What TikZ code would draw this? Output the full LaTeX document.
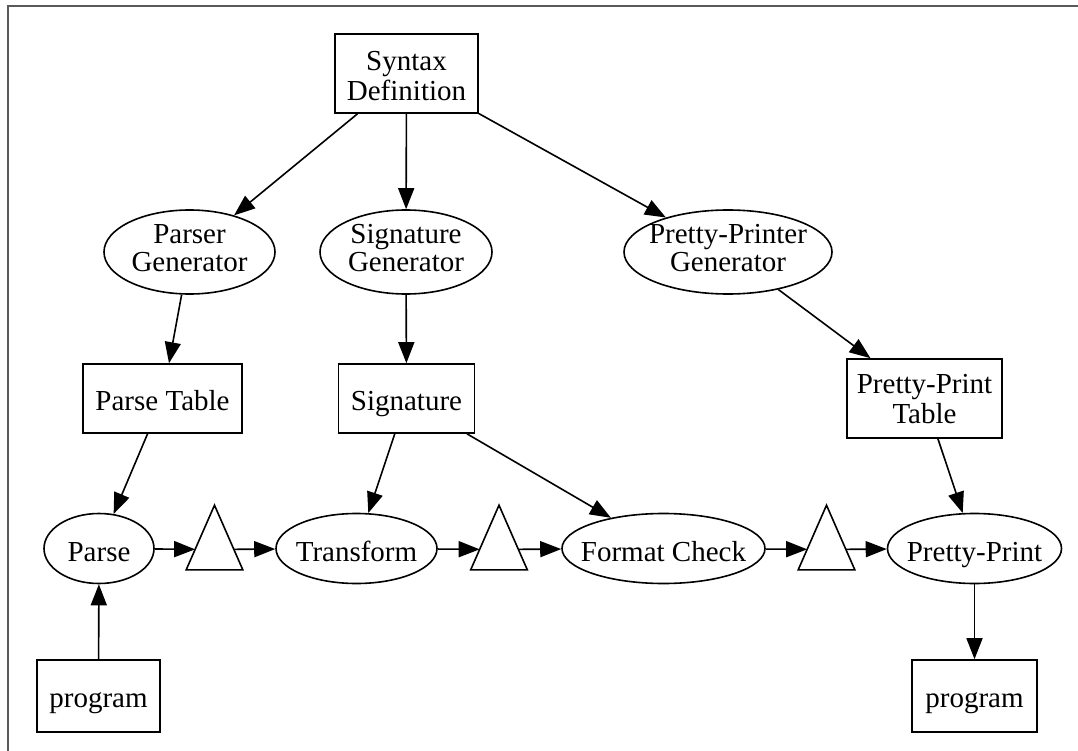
\documentclass[tikz,border=0pt]{standalone}
\usepackage{fontspec}
\setmainfont{Liberation Serif}
\usetikzlibrary{arrows.meta,calc,shapes.geometric}
\definecolor{framegray}{RGB}{90,90,90}
% label text placed with its first baseline #1 above the node centre
\newcommand{\lbl}[2]{\makebox[0pt]{\raisebox{#1}[0pt][0pt]{\begin{tabular}[t]{@{}c@{}}#2\end{tabular}}}}
\begin{document}
\begin{tikzpicture}[x=1pt,y=-1pt,
  every node/.style={font=\fontsize{29}{30}\selectfont, inner sep=0pt, text height=0pt, text depth=0pt, line width=1.6pt},
  box/.style={draw, rectangle},
  oval/.style={draw, ellipse},
  tribox/.style={minimum width=55pt, minimum height=63pt},
  arr/.style={line width=1.6pt, -{Triangle[length=21pt,width=16pt]}}]
\useasboundingbox (0,0) rectangle (1078,751);
\draw[line width=2pt, framegray] (1078,6.5) -- (7.5,6.5) -- (7.5,751);

\node[box, minimum width=143pt, minimum height=79pt] (sd) at (406.5,73.5) {\lbl{2.5pt}{Syntax\\Definition}};
\node[oval, minimum width=171pt, minimum height=84pt] (pg) at (189.5,252) {\lbl{9pt}{Parser\\[-2pt]Generator}};
\node[oval, minimum width=172pt, minimum height=84pt] (sg) at (406,252) {\lbl{9pt}{Signature\\[-2pt]Generator}};
\node[oval, minimum width=208pt, minimum height=84pt] (ppg) at (728,252) {\lbl{9pt}{Pretty-Printer\\[-2pt]Generator}};
\node[box, minimum width=159pt, minimum height=69pt] (pt) at (162.5,398.5) {\lbl{-12pt}{Parse Table}};
\node[box, minimum width=136pt, minimum height=69pt] (sig) at (406.5,398.5) {\lbl{-12pt}{Signature}};
\node[box, minimum width=155pt, minimum height=79pt] (ppt) at (924.5,398.5) {\lbl{5.5pt}{Pretty-Print\\Table}};
\node[oval, minimum width=110pt, minimum height=70pt] (parse) at (99,548.5) {\lbl{-13pt}{Parse}};
\node[tribox] (t1) at (214.5,537.5) {};
\node[oval, minimum width=161pt, minimum height=70pt] (tr) at (356.5,548.5) {\lbl{-13pt}{Transform}};
\node[tribox] (t2) at (499,537.5) {};
\node[oval, minimum width=203pt, minimum height=70pt] (fc) at (663.5,548.5) {\lbl{-13pt}{Format Check}};
\node[tribox] (t3) at (826.5,537.5) {};
\node[oval, minimum width=174pt, minimum height=70pt] (pp) at (974.5,548.5) {\lbl{-13pt}{Pretty-Print}};
\node[box, minimum width=123pt, minimum height=72pt] (prog1) at (98.5,696) {\lbl{-11pt}{program}};
\node[box, minimum width=125pt, minimum height=72pt] (prog2) at (974.5,696) {\lbl{-11pt}{program}};

\foreach \t in {t1,t2,t3}
  \draw[line width=1.6pt, line join=miter] (\t.south west) -- (\t.north) -- (\t.south east) -- cycle;

\draw[arr] (sd) -- (pg);
\draw[arr] (sd) -- (sg);
\draw[arr] (sd) -- (ppg);
\draw[arr] (pg) -- (pt);
\draw[arr] (sg) -- (sig);
\draw[arr] (ppg) -- (ppt);
\draw[arr] (pt) -- (parse);
\draw[arr] (sig) -- (tr);
\draw[arr] (sig) -- (fc);
\draw[arr] (ppt) -- (pp);
\draw[arr] (prog1) -- (parse);
\draw[arr] (pp) -- (prog2);
\draw[arr] (parse) -- ($(t1.north)!0.683!(t1.south west)$);
\draw[arr] ($(t1.north)!0.683!(t1.south east)$) -- (tr);
\draw[arr] (tr) -- ($(t2.north)!0.683!(t2.south west)$);
\draw[arr] ($(t2.north)!0.683!(t2.south east)$) -- (fc);
\draw[arr] (fc) -- ($(t3.north)!0.683!(t3.south west)$);
\draw[arr] ($(t3.north)!0.683!(t3.south east)$) -- (pp);
\end{tikzpicture}
\end{document}
